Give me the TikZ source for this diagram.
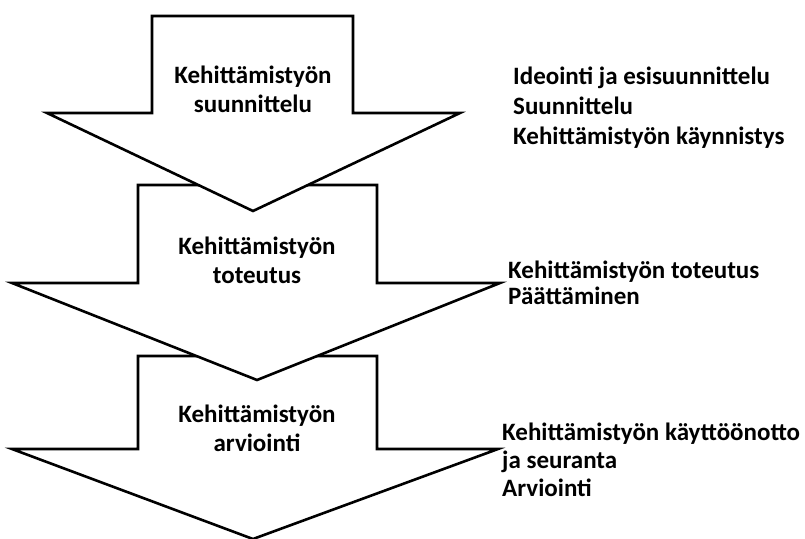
\documentclass[tikz,border=0pt]{standalone}
\usepackage{fontspec}
\setmainfont{Carlito}
\begin{document}
\begin{tikzpicture}[x=1pt, y=-1pt, line join=miter]
    \tikzset{
      phase/.style={draw=black, fill=white, line width=2.6pt},
      phaselabel/.style={font=\bfseries\fontsize{25}{29}\selectfont, align=center, inner sep=0pt},
      tasklist/.style={font=\bfseries\fontsize{25}{30}\selectfont, align=left, anchor=west, inner sep=0pt},
    }
    \useasboundingbox (0,0) rectangle (805,538);

    % third arrow (lowest, drawn first)
    \draw[phase] (138,356) -- (377,356) -- (377,449) -- (498,449)
      -- (253,539) -- (12,449) -- (138,449) -- cycle;

    % second arrow
    \draw[phase] (138,185) -- (377,185) -- (377,283) -- (500,283)
      -- (257,380) -- (12,283) -- (138,283) -- cycle;

    % first arrow
    \draw[phase] (152,16) -- (353,16) -- (353,113) -- (460,113)
      -- (253,211) -- (47,113) -- (152,113) -- cycle;

    % phase names
    \node[phaselabel] (suunnittelu) at (253,89) {Kehittämistyön\\suunnittelu};
    \node[phaselabel] (toteutus) at (257,260) {Kehittämistyön\\toteutus};
    \node[phaselabel] (arviointi) at (257,428) {Kehittämistyön\\arviointi};

    % tasks of each phase
    \node[tasklist] (tasks1) at (513,108)
      {Ideointi ja esisuunnittelu\\Suunnittelu\\Kehittämistyön käynnistys};
    \node[tasklist, font=\bfseries\fontsize{25}{26}\selectfont] (tasks2) at (508,283)
      {Kehittämistyön toteutus\\Päättäminen};
    \node[tasklist, font=\bfseries\fontsize{25}{28}\selectfont] (tasks3) at (502,460)
      {Kehittämistyön käyttöönotto\\ja seuranta\\Arviointi};
  \end{tikzpicture}
\end{document}
